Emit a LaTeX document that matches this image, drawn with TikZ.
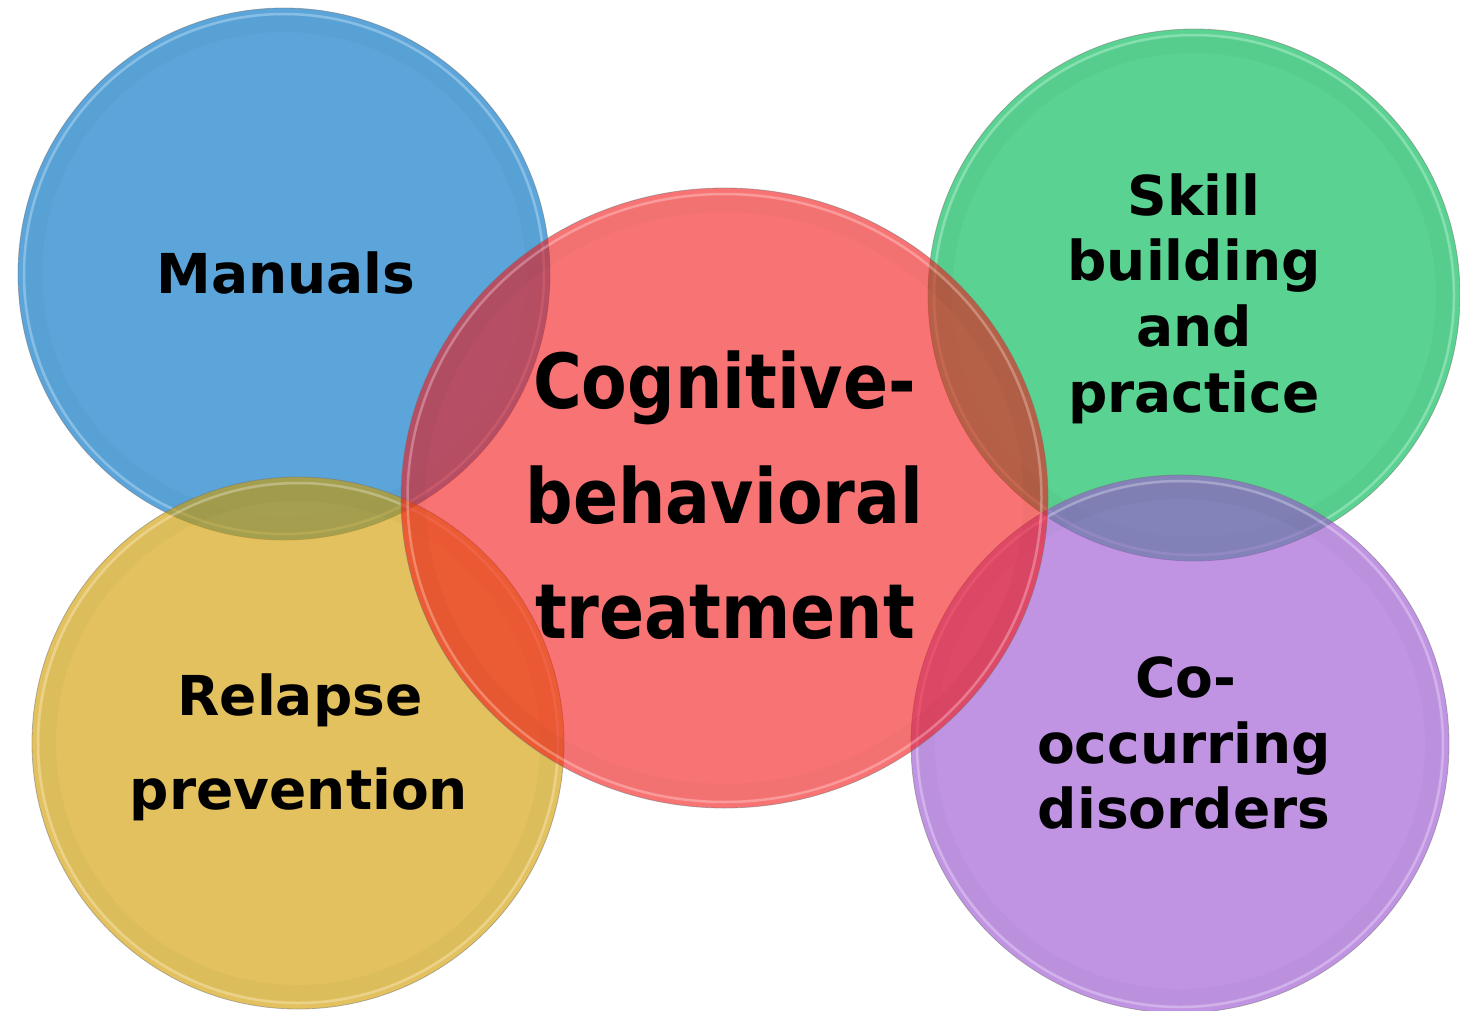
\documentclass[tikz,border=0pt]{standalone}
\usepackage{fontspec}
\usetikzlibrary{shapes.geometric}
\setmainfont{DejaVu Sans}
\newfontfamily\cbtfont{DejaVu Sans}[FakeStretch=0.875]
\definecolor{cblue}{RGB}{91,165,218}
\definecolor{cgreen}{RGB}{90,210,145}
\definecolor{cyellow}{RGB}{209,157,0}
\definecolor{cpurple}{RGB}{155,86,209}
\definecolor{cred}{RGB}{243,23,23}
\tikzset{
  disc/.style={circle, minimum size=532pt, inner sep=0pt, draw=black!55, line width=0.8pt, draw opacity=0.5},
  outertext/.style={anchor=base, inner sep=0pt, font=\fontsize{55}{66}\selectfont\bfseries},
  centertext/.style={anchor=base, inner sep=0pt, font=\cbtfont\fontsize{76}{90}\selectfont\bfseries},
  hilite/.style={white, opacity=0.28, line width=2.5pt},
  shade band/.style={black, opacity=0.025, line width=16pt}
}
\begin{document}
\begin{tikzpicture}[x=1pt, y=-1pt]
\useasboundingbox (0,0) rectangle (1460,1010);
% blue
\node[disc, fill=cblue] (blue) at (284,274) {};
\draw[shade band] (blue.center) circle[radius=250];
\draw[hilite] (blue.center) circle[radius=260];
% green
\node[disc, fill=cgreen] (green) at (1194,295) {};
\draw[shade band] (green.center) circle[radius=250];
\draw[hilite] (green.center) circle[radius=260];
% yellow
\node[disc, fill=cyellow, fill opacity=0.63] (yellow) at (298,743) {};
\draw[shade band] (yellow.center) circle[radius=250];
\draw[hilite] (yellow.center) circle[radius=260];
% purple
\node[disc, fill=cpurple, fill opacity=0.63, minimum size=538pt] (purple) at (1180,744) {};
\draw[shade band] (purple.center) circle[radius=253];
\draw[hilite] (purple.center) circle[radius=263];
% red
\node[ellipse, minimum width=647pt, minimum height=620pt, inner sep=0pt, draw=black!55, line width=0.8pt, draw opacity=0.5, fill=cred, fill opacity=0.6] (red) at (724.5,498) {};
\draw[shade band] (red.center) ellipse[x radius=307, y radius=294];
\draw[hilite] (red.center) ellipse[x radius=317, y radius=304];
% texts
\node[outertext] (t1) at (286,293) {Manuals};
\node[outertext] (t2) at (1194,215) {Skill};
\node[outertext] (t3) at (1194,280) {building};
\node[outertext] (t4) at (1194,346) {and};
\node[outertext] (t5) at (1194,412) {practice};
\node[outertext] (t6) at (300,715) {Relapse};
\node[outertext] (t7) at (299,809) {prevention};
\node[outertext] (t8) at (1186,697) {Co-};
\node[outertext] (t9) at (1184,763) {occurring};
\node[outertext] (t10) at (1184,828) {disorders};
\node[centertext] (c1) at (724.5,408) {Cognitive-};
\node[centertext] (c2) at (724.5,523) {behavioral};
\node[centertext] (c3) at (725,638) {treatment};
\end{tikzpicture}
\end{document}
